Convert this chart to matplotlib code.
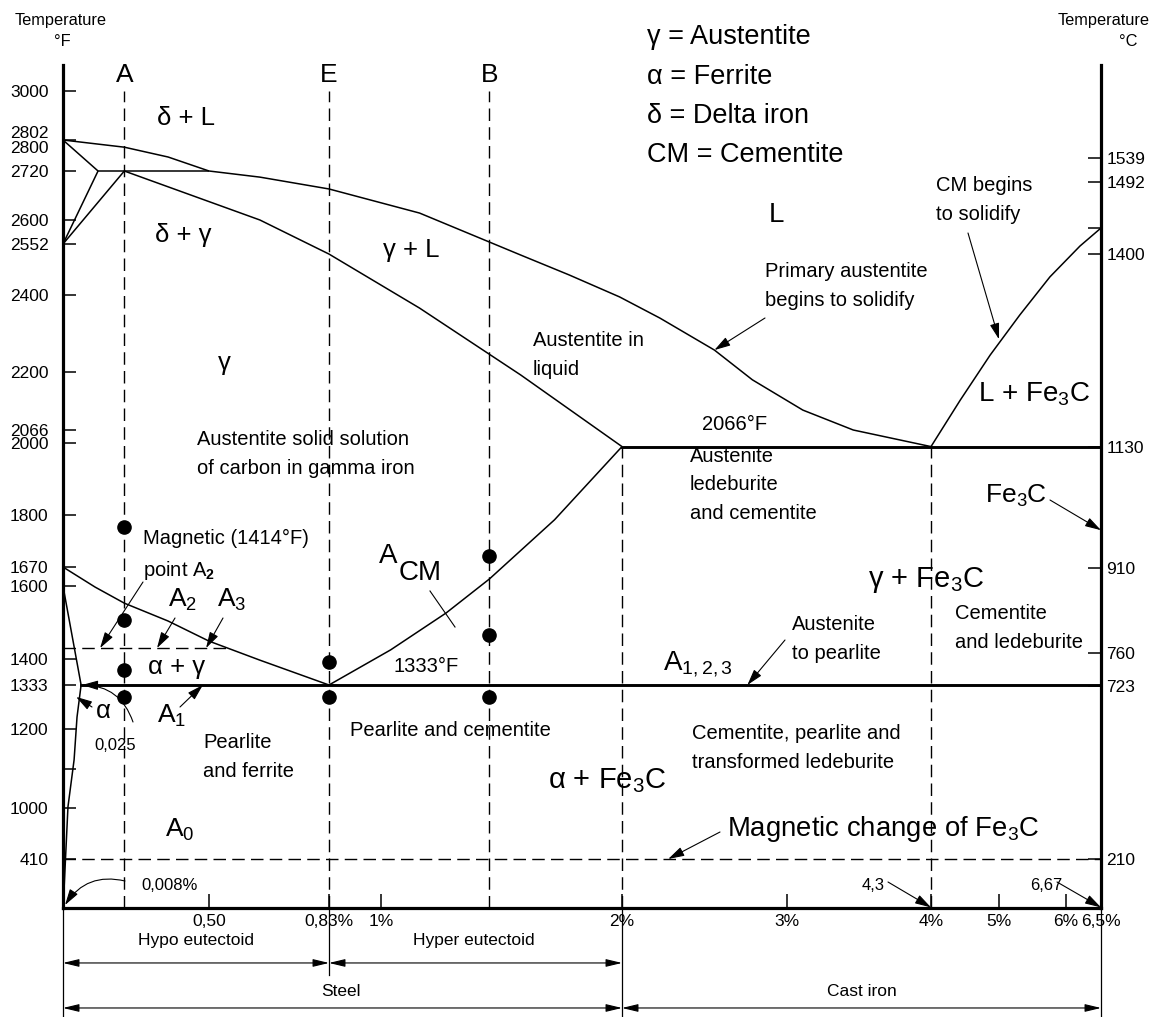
import numpy as np
import matplotlib
matplotlib.use("Agg")
import matplotlib.pyplot as plt
import matplotlib.transforms as mtransforms
from matplotlib.lines import Line2D

plt.rcParams["font.family"] = ["Liberation Sans", "DejaVu Sans"]
plt.rcParams["mathtext.fontset"] = "custom"
plt.rcParams["mathtext.rm"] = "Liberation Sans"
plt.rcParams["mathtext.it"] = "Liberation Sans:italic"
plt.rcParams["mathtext.bf"] = "Liberation Sans:bold"

W, H = 1151, 1017

# ─────────────────────────────────────────────
# Axis layout of the printed chart (value -> pixel), the scales are not linear
# ─────────────────────────────────────────────
X_BREAKS = np.array([0, 0.5, 0.83, 1, 2, 3, 4, 5, 6, 6.5])
X_PIX = np.array([63, 209, 329, 381, 622, 787, 931, 999, 1066, 1101])
F_BREAKS = np.array([0, 410, 1000, 1200, 1333, 1400, 1600, 1670, 1800, 2000,
                     2066, 2200, 2400, 2552, 2600, 2720, 2802, 3000, 3100])
F_PIX = np.array([908, 859, 808, 729, 685, 659, 586, 567, 515, 443,
                  430, 372, 295, 244, 220, 171, 140, 91, 65])
C_BREAKS = np.array([0, 210, 723, 760, 910, 1130, 1400, 1433, 1492, 1539, 1740])
C_PIX = np.array([908, 859, 686, 653, 568, 447, 254, 228, 182, 158, 65])

# ─────────────────────────────────────────────
# Data: carbon (%) and temperature (°F)
# ─────────────────────────────────────────────
liq_c = [0, 0.21, 0.36, 0.50, 0.64, 0.83, 1.16, 1.58, 1.78, 1.99, 2.23, 2.56, 2.79, 3.11, 3.46, 4.0]
liq_t = [2802, 2783, 2757, 2720, 2705, 2676, 2617, 2519, 2460, 2395, 2340, 2257, 2182, 2112, 2066, 1990]

sol_c = [0.21, 0.64, 0.83, 1.16, 1.58, 2.0]
sol_t = [2720, 2600, 2522, 2366, 2193, 1990]

delta_top_c = [0, 0.12]
delta_top_t = [2802, 2720]
peritectic_c = [0.12, 0.50]
peritectic_t = [2720, 2720]
delta_low1_c = [0.12, 0]
delta_low1_t = [2720, 2552]
delta_low2_c = [0.21, 0]
delta_low2_t = [2720, 2552]

cm_liq_c = [4.0, 4.43, 4.87, 5.31, 5.76, 6.2, 6.5]
cm_liq_t = [1990, 2135, 2244, 2348, 2454, 2546, 2584]

a3_c = [0, 0.11, 0.21, 0.36, 0.50, 0.64, 0.83]
a3_t = [1670, 1597, 1553, 1504, 1449, 1397, 1333]

acm_c = [0.83, 1.04, 1.27, 1.45, 1.72, 2.0]
acm_t = [1333, 1425, 1526, 1626, 1788, 1990]

ferrite_c = [0, 0.062]
ferrite_t = [1600, 1333]
solvus_c = [0.062, 0.048, 0.038, 0.017, 0.003]
solvus_t = [1333, 1236, 1122, 1003, 125]

eutectoid_c = [0.062, 6.5]
eutectoid_t = [1333, 1333]
eutectic_c = [2.0, 6.5]
eutectic_t = [1990, 1990]

a2_c = [0, 0.55]
a2_t = [1430, 1430]
mag_c = [0, 6.5]
mag_t = [410, 410]

steel_lines = [0.21, 0.83, 1.45]      # A, E, B
steel_names = ["A", "E", "B"]
cast_lines = [2.0, 4.0]

dot_c = [0.21, 0.21, 0.21, 0.21, 0.83, 0.83, 1.45, 1.45, 1.45]
dot_t = [1770, 1507, 1372, 1297, 1392, 1297, 1698, 1466, 1297]

f_ticks = [410, 1000, 1100, 1200, 1333, 1400, 1600, 1670, 1800, 2000, 2066,
           2200, 2400, 2552, 2600, 2720, 2802, 3000]
f_labels = ["410", "1000", "", "1200", "1333", "1400", "1600", "1670", "1800", "2000", "2066",
            "2200", "2400", "2552", "2600", "2720", "2802\n2800", "3000"]
c_ticks = [210, 723, 760, 910, 1130, 1400, 1433, 1492, 1539]
c_labels = ["210", "723", "760", "910", "1130", "1400", "", "1492", "1539"]
pct_ticks = [0.5, 0.83, 1, 2, 3, 4, 5, 6, 6.5]
pct_labels = ["0,50", "0,83%", "1%", "2%", "3%", "4%", "5%", "6%", "6,5%"]

legend_lines = ["γ = Austentite", "α = Ferrite", "δ = Delta iron", "CM = Cementite"]


def piecewise(vals, pix, flip):
    """Forward/inverse pair mapping a value to its printed pixel position."""
    p = H - pix if flip else pix
    return (lambda v: np.interp(v, vals, p)), (lambda q: np.interp(q, p, vals))


fig = plt.figure(figsize=(W / 100, H / 100), dpi=100)
ax = fig.add_axes([63 / W, (H - 908) / H, (1101 - 63) / W, (908 - 65) / H])
ax.set_xscale("function", functions=piecewise(X_BREAKS, X_PIX, False))
ax.set_yscale("function", functions=piecewise(F_BREAKS, F_PIX, True))
ax.set_xlim(0, 6.5)
ax.set_ylim(0, 3100)

axr = ax.twinx()
axr.set_yscale("function", functions=piecewise(C_BREAKS, C_PIX, True))
axr.set_ylim(0, 1740)

# pixel transform of the printed sheet, used for label placement
PIX = mtransforms.Affine2D().scale(1 / W, -1 / H).translate(0, 1) + fig.transFigure

# ── spines / ticks ───────────────────────────
for a in (ax, axr):
    for s in a.spines.values():
        s.set_visible(False)
ax.spines["left"].set_visible(True)
ax.spines["bottom"].set_visible(True)
axr.spines["right"].set_visible(True)
for s in (ax.spines["left"], ax.spines["bottom"], axr.spines["right"]):
    s.set_linewidth(2.3)

ax.set_yticks(f_ticks, f_labels)
ax.set_xticks(pct_ticks, pct_labels)
ax.minorticks_off()
axr.minorticks_off()
axr.set_yticks(c_ticks, c_labels)
ax.tick_params(axis="y", direction="in", length=9.5, width=1.1, pad=10.5, labelsize=12.5)
ax.tick_params(axis="x", direction="in", length=10, width=1.1, pad=4, labelsize=12.5)
axr.tick_params(axis="y", direction="in", length=9.5, width=1.1, pad=4, labelsize=12.5)
for lab in ax.get_yticklabels():
    if "\n" in lab.get_text():
        lab.set_linespacing(0.95)

# ── phase boundaries ─────────────────────────
LW = 1.1
K = "black"
thin = dict(color=K, lw=LW, solid_capstyle="butt", solid_joinstyle="round")
ax.plot(liq_c, liq_t, **thin)
ax.plot(sol_c, sol_t, **thin)
ax.plot(delta_top_c, delta_top_t, **thin)
ax.plot(peritectic_c, peritectic_t, **thin)
ax.plot(delta_low1_c, delta_low1_t, **thin)
ax.plot(delta_low2_c, delta_low2_t, **thin)
ax.plot(cm_liq_c, cm_liq_t, **thin)
ax.plot(a3_c, a3_t, **thin)
ax.plot(acm_c, acm_t, **thin)
ax.plot(ferrite_c, ferrite_t, **thin)
ax.plot(solvus_c, solvus_t, **thin)
ax.plot(eutectoid_c, eutectoid_t, color=K, lw=2.1)
ax.plot(eutectic_c, eutectic_t, color=K, lw=2.1)

dash = dict(color=K, lw=1.0, linestyle=(0, (9, 4.5)))
ax.plot(a2_c, a2_t, **dash)
ax.plot(mag_c, mag_t, **dash)
for xc in steel_lines:
    ax.plot([xc, xc], [0, 3000], **dash)
for xc in cast_lines:
    ax.plot([xc, xc], [0, 1990], **dash)

ax.plot(dot_c, dot_t, "o", color=K, ms=9.5, zorder=5)


def txt(x, y, s, size=14.5, ha="center", va="center", **kw):
    fig.text(x, y, s, transform=PIX, fontsize=size, ha=ha, va=va, **kw)


def arrow(xy, tail, rad=0.0):
    ax.annotate("", xy=xy, xycoords="data", xytext=tail, textcoords=PIX,
                annotation_clip=False,
                arrowprops=dict(arrowstyle="-|>,head_length=0.75,head_width=0.22",
                                color=K, lw=0.8, mutation_scale=13,
                                shrinkA=0, shrinkB=0,
                                connectionstyle=f"arc3,rad={rad}"))


# ── axis titles ──────────────────────────────
txt(61, 21, "Temperature", size=11.8)
txt(62, 42, "°F", size=11.8)
txt(1058, 21, "Temperature", size=11.8, ha="left")
txt(1128, 42, "°C", size=11.8)

# ── letters above the dashed steels ──────────
for xc, name in zip(steel_lines, steel_names):
    ax.text(xc, 3061, name, fontsize=19, ha="center", va="center")

# ── legend block ─────────────────────────────
for i, line in enumerate(legend_lines):
    txt(647, 37 + 39.5 * i, line, size=19.5, ha="left")

# ── region labels ────────────────────────────
LS = 1.65
txt(186, 118, "δ + L", size=18.5)
txt(183, 235, "δ + γ", size=18.5)
txt(224, 363, "γ", size=18.5)
txt(411, 250, "γ + L", size=18.5)
txt(776, 215, "L", size=20)
txt(533, 355, "Austentite in\nliquid", ha="left", linespacing=LS)
txt(765, 286, "Primary austentite\nbegins to solidify", ha="left", linespacing=LS)
txt(936, 200, "CM begins\nto solidify", ha="left", linespacing=LS)
txt(197, 454, "Austentite solid solution\nof carbon in gamma iron", ha="left", linespacing=LS)
txt(143, 555, "Magnetic (1414°F)\npoint A$_\\mathbf{2}$", ha="left", linespacing=LS)
txt(168, 607, "A$_\\mathregular{2}$", size=19, ha="left", va="baseline")
txt(217, 607, "A$_\\mathregular{3}$", size=19, ha="left", va="baseline")
txt(177, 667, "α + γ", size=18.5)
txt(103, 711, "α", size=18.5)
txt(115, 745, "0,025", size=12)
txt(157, 723, "A$_\\mathregular{1}$", size=19, ha="left", va="baseline")
txt(203, 757, "Pearlite\nand ferrite", ha="left", linespacing=LS)
txt(165, 837, "A$_\\mathregular{0}$", size=19, ha="left", va="baseline")
txt(170, 885, "0,008%", size=12)
txt(388, 556, "A", size=20)
txt(399, 573, "CM", size=20, ha="left")
txt(426, 667, "1333°F", size=14.5)
txt(350, 730, "Pearlite and cementite", ha="left")
txt(735, 424, "2066°F")
txt(690, 485, "Austenite\nledeburite\nand cementite", ha="left", linespacing=LS)
txt(868, 587, "γ + Fe$_\\mathregular{3}$C", size=21, ha="left", va="baseline")
txt(955, 628, "Cementite\nand ledeburite", ha="left", linespacing=LS)
txt(985, 503, "Fe$_\\mathregular{3}$C", size=19, ha="left", va="baseline")
txt(1090, 402, "L + Fe$_\\mathregular{3}$C", size=20, ha="right", va="baseline")
txt(663, 670, "A$_\\mathregular{1,2,3}$", size=20, ha="left", va="baseline")
txt(792, 639, "Austenite\nto pearlite", ha="left", linespacing=LS)
txt(692, 748, "Cementite, pearlite and\ntransformed ledeburite", ha="left", linespacing=LS)
txt(548, 788, "α + Fe$_\\mathregular{3}$C", size=21, ha="left", va="baseline")
txt(727, 836, "Magnetic change of Fe$_\\mathregular{3}$C", size=19.8, ha="left", va="baseline")
txt(873, 886, "4,3", size=12)
txt(1046, 886, "6,67", size=12)

# ── arrows pointing at the boundaries ────────
arrow((2.56, 2257), (765, 318))
arrow((5.0, 2285), (968, 233))
arrow((0.127, 1430), (143, 582))
arrow((0.322, 1430), (175, 618))
arrow((0.49, 1430), (223, 618))
arrow((0.045, 1297), (92, 707))
arrow((0.065, 1333), (133, 722), rad=0.35)
arrow((0.007, 25), (125, 881), rad=0.35)
arrow((0.479, 1333), (180, 707))
arrow((2.76, 1333), (785, 640))
arrow((6.5, 1762), (1050, 500))
arrow((2.28, 410), (720, 832))
arrow((4.0, 5), (888, 882))
arrow((6.5, 5), (1057, 882))
fig.add_artist(Line2D([430, 455], [591, 627], transform=PIX, color=K, lw=0.8))

# ── steel / cast iron brackets under the axis ─
xt = ax.get_xaxis_transform()
for xc, depth in [(0, -0.14), (0.83, -0.0795), (2.0, -0.14), (6.5, -0.14)]:
    ax.plot([xc, xc], [0, depth], transform=xt, color=K, lw=0.9, clip_on=False)
for x0, x1, yb in [(0, 0.83, -0.0652), (0.83, 2.0, -0.0652), (0, 2.0, -0.1186), (2.0, 6.5, -0.1186)]:
    ax.annotate("", xy=(x1, yb), xycoords=xt, xytext=(x0, yb), textcoords=xt,
                annotation_clip=False,
                arrowprops=dict(arrowstyle="<|-|>,head_length=0.75,head_width=0.18",
                                color=K, lw=0.8, mutation_scale=13, shrinkA=0, shrinkB=0))
txt(196, 941, "Hypo eutectoid", size=12.5)
txt(474, 941, "Hyper eutectoid", size=12.5)
txt(341, 991, "Steel", size=12.5)
txt(862, 991, "Cast iron", size=12.5)

fig.savefig("out.png", dpi=100)
